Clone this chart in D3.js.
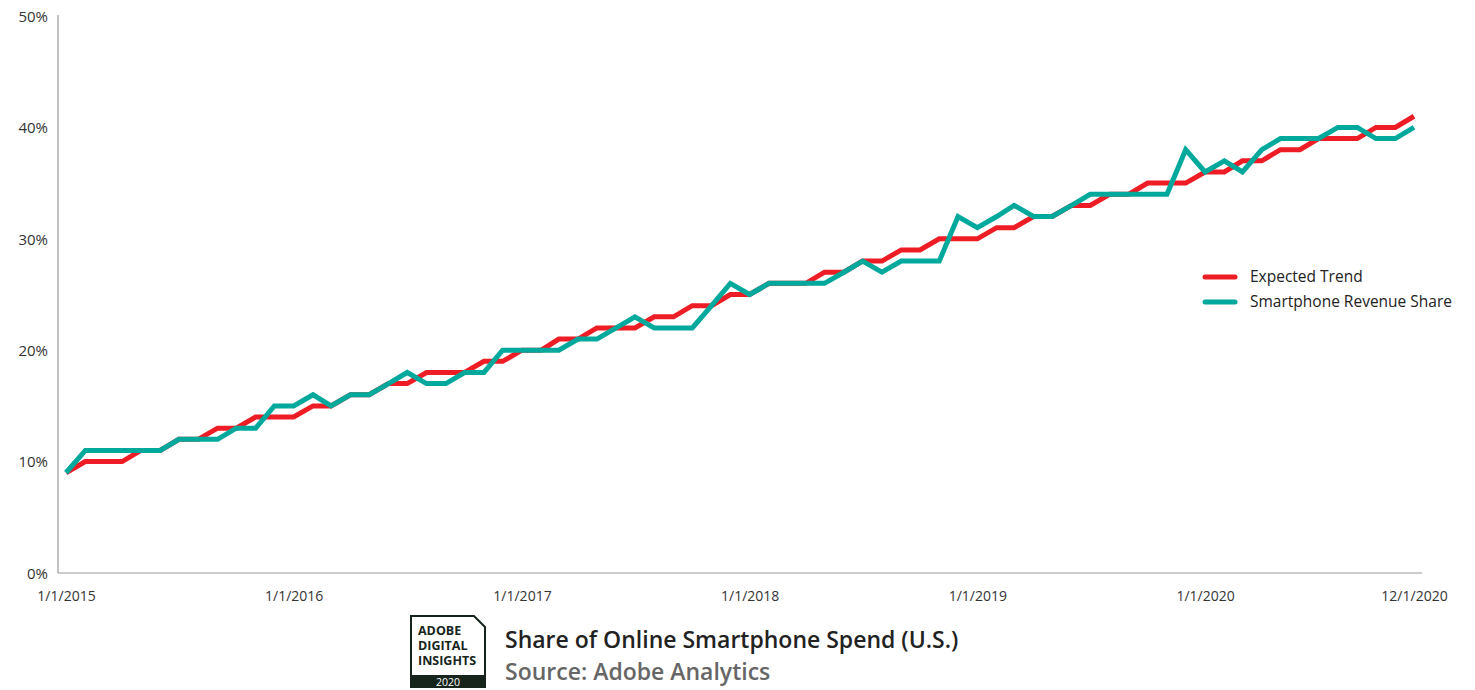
<!DOCTYPE html>
<html>
<head>
<meta charset="utf-8">
<script src="https://cdn.jsdelivr.net/npm/d3@7"></script>
<style>
  body { margin: 0; background: #fff; }
  svg text { font-family: "Open Sans", "Noto Sans", sans-serif; }
</style>
</head>
<body>
<script>
// monthly values, Jan 2015 .. Dec 2020 (percent)
var expectedTrend = [
  9, 10, 10, 10, 11, 11, 12, 12, 13, 13, 14, 14,
  14, 15, 15, 16, 16, 17, 17, 18, 18, 18, 19, 19,
  20, 20, 21, 21, 22, 22, 22, 23, 23, 24, 24, 25,
  25, 26, 26, 26, 27, 27, 28, 28, 29, 29, 30, 30,
  30, 31, 31, 32, 32, 33, 33, 34, 34, 35, 35, 35,
  36, 36, 37, 37, 38, 38, 39, 39, 39, 40, 40, 41
];
var smartphoneShare = [
  9, 11, 11, 11, 11, 11, 12, 12, 12, 13, 13, 15,
  15, 16, 15, 16, 16, 17, 18, 17, 17, 18, 18, 20,
  20, 20, 20, 21, 21, 22, 23, 22, 22, 22, 24, 26,
  25, 26, 26, 26, 26, 27, 28, 27, 28, 28, 28, 32,
  31, 32, 33, 32, 32, 33, 34, 34, 34, 34, 34, 38,
  36, 37, 36, 38, 39, 39, 39, 40, 40, 39, 39, 40
];
var tickLabels = ["1/1/2015", "1/1/2016", "1/1/2017", "1/1/2018", "1/1/2019", "1/1/2020", "12/1/2020"];
var yTicks = [0, 10, 20, 30, 40, 50];
var seriesNames = ["Expected Trend", "Smartphone Revenue Share"];
var seriesColors = ["#ee1d25", "#00a99c"];

var width = 1475;
var height = 690;

var parse = d3.utcParse("%m/%d/%Y");
var months = d3.utcMonth.range(parse("1/1/2015"), d3.utcMonth.offset(parse("12/1/2020"), 1));

var svg = d3.select("body").append("svg")
  .attr("width", width)
  .attr("height", height);

var x = d3.scaleUtc()
  .domain([months[0], months[months.length - 1]])
  .range([66, 1414]);

var y = d3.scaleLinear()
  .domain([0, 50])
  .range([573, 16]);

// axis lines
svg.append("line")
  .attr("x1", 58).attr("x2", 58)
  .attr("y1", y(50) - 1).attr("y2", y(0))
  .attr("stroke", "#999").attr("stroke-width", 1.2);
svg.append("line")
  .attr("x1", 58).attr("x2", 1422)
  .attr("y1", y(0)).attr("y2", y(0))
  .attr("stroke", "#999").attr("stroke-width", 1.2);

// y axis labels
var yAxis = svg.append("g")
  .attr("transform", "translate(58,0)")
  .call(d3.axisLeft(y).tickValues(yTicks).tickSize(0).tickPadding(10)
    .tickFormat(function(d){ return d + "%"; }));
yAxis.select(".domain").remove();
yAxis.selectAll("text")
  .attr("fill", "#333")
  .style("font-size", "15px")
  .attr("dy", "0.35em");

// x axis labels
var xAxis = svg.append("g")
  .attr("transform", "translate(0," + y(0) + ")")
  .call(d3.axisBottom(x).tickValues(tickLabels.map(parse)).tickSize(0).tickPadding(18)
    .tickFormat(function(d, i){ return tickLabels[i]; }));
xAxis.select(".domain").remove();
xAxis.selectAll("text")
  .attr("fill", "#333")
  .style("font-size", "14px");

// lines
var line = d3.line()
  .x(function(d, i){ return x(months[i]); })
  .y(function(d){ return y(d); });

[expectedTrend, smartphoneShare].forEach(function(values, k){
  svg.append("path")
    .datum(values)
    .attr("fill", "none")
    .attr("stroke", seriesColors[k])
    .attr("stroke-width", 5)
    .attr("stroke-linejoin", "miter")
    .attr("d", line);
});

// legend
var legend = svg.append("g").attr("transform", "translate(1203,277)");
seriesNames.forEach(function(name, k){
  var g = legend.append("g").attr("transform", "translate(0," + (k * 25) + ")");
  g.append("line")
    .attr("x1", 2).attr("x2", 32)
    .attr("stroke", seriesColors[k])
    .attr("stroke-width", 5)
    .attr("stroke-linecap", "round");
  g.append("text")
    .attr("x", 47)
    .attr("dy", "0.35em")
    .attr("fill", "#222")
    .style("font-size", "15.5px")
    .text(name);
});

// logo
var logo = svg.append("g").attr("transform", "translate(410,615)");
logo.append("path")
  .attr("d", "M1,1 H64 L75,12 V72 H1 Z")
  .attr("fill", "#fff")
  .attr("stroke", "#16241b")
  .attr("stroke-width", 2);
logo.append("rect")
  .attr("x", 1).attr("y", 60).attr("width", 74).attr("height", 13)
  .attr("fill", "#16241b");
["ADOBE", "DIGITAL", "INSIGHTS"].forEach(function(t, i){
  logo.append("text")
    .attr("x", 8).attr("y", 20 + i * 15)
    .attr("fill", "#16241b")
    .style("font-size", "12.5px")
    .style("font-weight", "bold")
    .text(t);
});
logo.append("text")
  .attr("x", 38).attr("y", 71)
  .attr("text-anchor", "middle")
  .attr("fill", "#fff")
  .style("font-size", "10.5px")
  .text("2020");

// title
svg.append("text")
  .attr("x", 505).attr("y", 648)
  .attr("fill", "#222")
  .style("font-size", "23px")
  .style("font-weight", "600")
  .text("Share of Online Smartphone Spend (U.S.)");
svg.append("text")
  .attr("x", 505).attr("y", 680)
  .attr("fill", "#666")
  .style("font-size", "23px")
  .style("font-weight", "600")
  .text("Source: Adobe Analytics");
</script>
</body>
</html>
